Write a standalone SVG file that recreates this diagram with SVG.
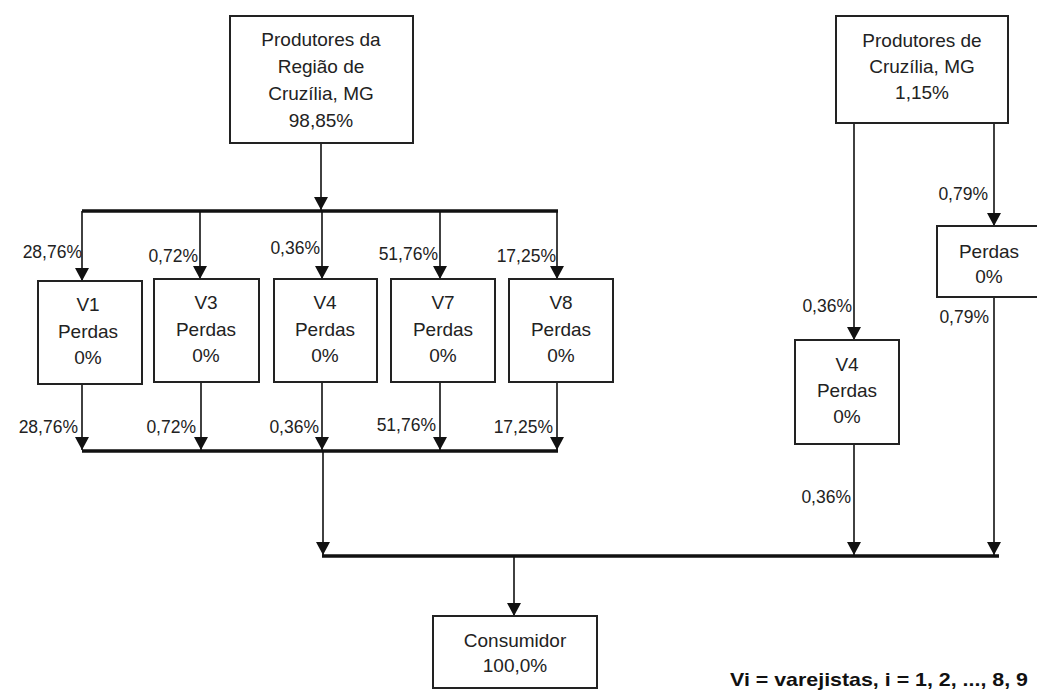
<svg xmlns="http://www.w3.org/2000/svg" width="1037" height="693" viewBox="0 0 1037 693">
<style>
.box{fill:#fff;stroke:#222;stroke-width:2}
.t{font-family:"Liberation Sans",Arial,sans-serif;font-size:19px;fill:#222;text-anchor:middle}
.lbl{font-family:"Liberation Sans",Arial,sans-serif;font-size:17.5px;fill:#222;text-anchor:end}
.ln{stroke:#111;stroke-width:1.6;fill:none}
.bus{stroke:#111;stroke-width:3.5;fill:none}
.arr{stroke:#111;stroke-width:1.6;fill:none;marker-end:url(#ah)}
.foot{font-family:"Liberation Sans",Arial,sans-serif;font-size:19px;font-weight:bold;fill:#111}
</style>
<defs>
<marker id="ah" markerUnits="userSpaceOnUse" markerWidth="14" markerHeight="14" refX="13" refY="7" orient="auto">
<path d="M0,0 L13,7 L0,14 z" fill="#111"/>
</marker>
</defs>
<rect width="1037" height="693" fill="#fff"/>
<g id="connectors">
<line class="arr" x1="321" y1="143" x2="321" y2="210"/>
<line class="bus" x1="82" y1="211" x2="558" y2="211"/>
<line class="arr" x1="82" y1="211" x2="82" y2="281"/>
<line class="arr" x1="200" y1="211" x2="200" y2="279"/>
<line class="arr" x1="322" y1="211" x2="322" y2="279"/>
<line class="arr" x1="440" y1="211" x2="440" y2="279"/>
<line class="arr" x1="557" y1="211" x2="557" y2="279"/>
<line class="arr" x1="82" y1="384" x2="82" y2="450"/>
<line class="arr" x1="201" y1="382" x2="201" y2="450"/>
<line class="arr" x1="322" y1="382" x2="322" y2="450"/>
<line class="arr" x1="440" y1="382" x2="440" y2="450"/>
<line class="arr" x1="557" y1="382" x2="557" y2="450"/>
<line class="bus" x1="82" y1="451" x2="558" y2="451"/>
<line class="arr" x1="323" y1="451" x2="323" y2="555"/>
<line class="bus" x1="322" y1="556" x2="999" y2="556"/>
<line class="arr" x1="854" y1="123" x2="854" y2="340"/>
<line class="arr" x1="994" y1="123" x2="994" y2="226"/>
<line class="arr" x1="854" y1="444" x2="854" y2="555"/>
<line class="arr" x1="994" y1="297" x2="994" y2="555"/>
<line class="arr" x1="514" y1="556" x2="514" y2="616"/>
<text class="lbl" x="82" y="258">28,76%</text>
<text class="lbl" x="198" y="262">0,72%</text>
<text class="lbl" x="320" y="254">0,36%</text>
<text class="lbl" x="438" y="260">51,76%</text>
<text class="lbl" x="556" y="262">17,25%</text>
<text class="lbl" x="78" y="433">28,76%</text>
<text class="lbl" x="196" y="433">0,72%</text>
<text class="lbl" x="319" y="433">0,36%</text>
<text class="lbl" x="436" y="431">51,76%</text>
<text class="lbl" x="553" y="433">17,25%</text>
<text class="lbl" x="852" y="312">0,36%</text>
<text class="lbl" x="988" y="200">0,79%</text>
<text class="lbl" x="989" y="323">0,79%</text>
<text class="lbl" x="851" y="503">0,36%</text>
</g>
<g id="prod-regiao">
<rect class="box" x="230" y="16" width="183" height="127"/>
<text class="t" x="321" y="46">Produtores da</text>
<text class="t" x="321" y="73">Região de</text>
<text class="t" x="321" y="100">Cruzília, MG</text>
<text class="t" x="321" y="127">98,85%</text>
</g>
<g id="prod-cruzilia">
<rect class="box" x="836" y="16" width="172" height="107"/>
<text class="t" x="922" y="47">Produtores de</text>
<text class="t" x="922" y="73">Cruzília, MG</text>
<text class="t" x="922" y="99">1,15%</text>
</g>
<g id="v1">
<rect class="box" x="38" y="281" width="104" height="103"/>
<text class="t" x="88" y="311">V1</text>
<text class="t" x="88" y="338">Perdas</text>
<text class="t" x="88" y="364">0%</text>
</g>
<g id="v3">
<rect class="box" x="154" y="279" width="105" height="103"/>
<text class="t" x="206" y="309">V3</text>
<text class="t" x="206" y="336">Perdas</text>
<text class="t" x="206" y="362">0%</text>
</g>
<g id="v4">
<rect class="box" x="274" y="279" width="103" height="103"/>
<text class="t" x="325" y="309">V4</text>
<text class="t" x="325" y="336">Perdas</text>
<text class="t" x="325" y="362">0%</text>
</g>
<g id="v7">
<rect class="box" x="391" y="279" width="104" height="103"/>
<text class="t" x="443" y="309">V7</text>
<text class="t" x="443" y="336">Perdas</text>
<text class="t" x="443" y="362">0%</text>
</g>
<g id="v8">
<rect class="box" x="509" y="279" width="104" height="103"/>
<text class="t" x="561" y="309">V8</text>
<text class="t" x="561" y="336">Perdas</text>
<text class="t" x="561" y="362">0%</text>
</g>
<g id="perdas-r">
<rect class="box" x="937" y="226" width="104" height="71"/>
<text class="t" x="989" y="258">Perdas</text>
<text class="t" x="989" y="283">0%</text>
</g>
<g id="v4-r">
<rect class="box" x="795" y="340" width="104" height="104"/>
<text class="t" x="847" y="371">V4</text>
<text class="t" x="847" y="397">Perdas</text>
<text class="t" x="847" y="423">0%</text>
</g>
<g id="consumidor">
<rect class="box" x="433" y="616" width="164" height="72"/>
<text class="t" x="515" y="647">Consumidor</text>
<text class="t" x="515" y="672">100,0%</text>
</g>
<text class="foot" x="730" y="686" textLength="298" lengthAdjust="spacingAndGlyphs">Vi = varejistas, i = 1, 2, ..., 8, 9</text>
</svg>
